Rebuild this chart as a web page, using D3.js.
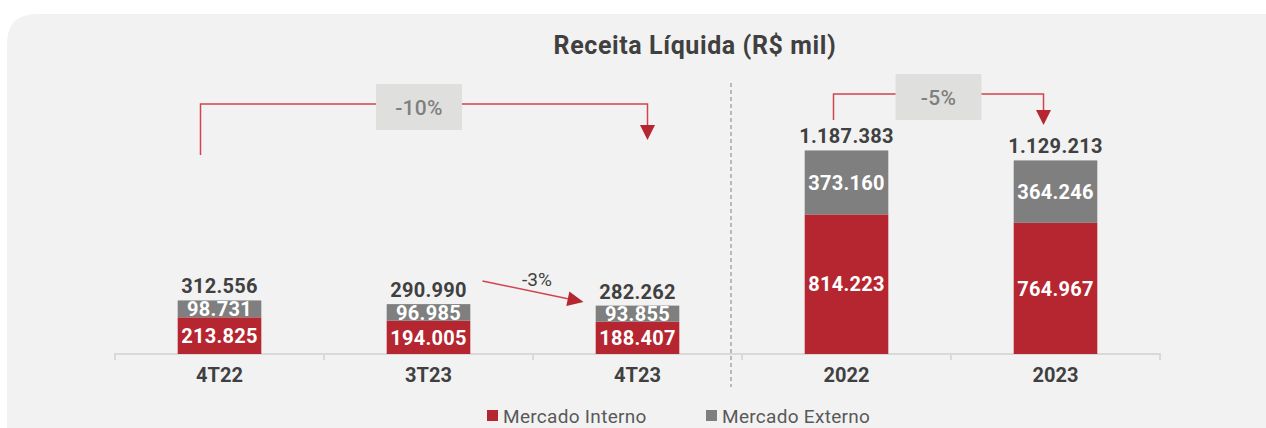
<!DOCTYPE html>
<html><head><meta charset="utf-8">
<script src="https://cdn.jsdelivr.net/npm/d3@7"></script>
<style>
html,body{margin:0;padding:0;background:#fff;}
svg{display:block;font-family:Roboto,"Noto Sans",sans-serif;}
</style></head>
<body>
<svg id="chart" width="1266" height="428"></svg>
<script>
const categories = ["4T22", "3T23", "4T23", "2022", "2023"];
const mercadoInterno = [213.825, 194.005, 188.407, 814.223, 764.967];
const mercadoExterno = [98.731, 96.985, 93.855, 373.160, 364.246];
const totals = [312.556, 290.990, 282.262, 1187.383, 1129.213];
const seriesNames = ["Mercado Interno", "Mercado Externo"];
const seriesColors = ["#b52630", "#7f7f7f"];
const title = "Receita Líquida (R$ mil)";
const changes = [
  {from: "4T22", to: "4T23", label: "-10%"},
  {from: "2022", to: "2023", label: "-5%"},
  {from: "3T23", to: "4T23", label: "-3%"}
];

// values are in thousands with 3 decimals -> display like 1.187.383
const fmtBR = v => {
  const n = Math.round(v * 1000);
  return d3.format(",")(n).replace(/,/g, ".");
};

const svg = d3.select("#chart");
// background panel
svg.append("path")
  .attr("d", "M7,1266 L7,44 Q7,14 37,14 L1266,14 L1266,428 L7,428 Z")
  .attr("fill", "#f2f2f2");

const x = d3.scaleBand().domain(categories).range([115, 1160]).paddingInner(0.6).paddingOuter(0.3);
const y = d3.scaleLinear().domain([0, 1400]).range([354, 114]);
const xs = d3.scaleBand().domain(categories).range([115, 1160]).padding(0);

// axis
const axis = d3.axisBottom(xs).tickSize(6).tickFormat("");
const gAxis = svg.append("g").attr("transform", "translate(0,354)").call(axis);
gAxis.select(".domain").attr("d", "M115,6V0H1160V6").attr("stroke", "#d9d9d9").attr("stroke-width", 2).attr("fill", "none");
gAxis.selectAll(".tick").remove();
const boundaries = categories.map(c => xs(c)).concat([xs.range()[1]]);
gAxis.selectAll("line.bt").data(boundaries)
  .enter().append("line")
  .attr("x1", d => d).attr("x2", d => d).attr("y1", 0).attr("y2", 6)
  .attr("stroke", "#d9d9d9").attr("stroke-width", 2);

// category labels
svg.append("g").selectAll("text").data(categories).enter().append("text")
  .attr("x", d => x(d) + x.bandwidth() / 2).attr("y", 382)
  .attr("text-anchor", "middle").attr("font-size", 20).attr("font-weight", 700)
  .attr("fill", "#404040").text(d => d);

// divider
svg.append("line").attr("x1", 731).attr("x2", 731).attr("y1", 83).attr("y2", 387)
  .attr("stroke", "#a6a6a6").attr("stroke-width", 1.5).attr("stroke-dasharray", "4,3");

// stacked bars
const stackData = categories.map((c, i) => ({cat: c, mi: mercadoInterno[i], me: mercadoExterno[i]}));
const stack = d3.stack().keys(["mi", "me"])(stackData);
const gBars = svg.append("g");
stack.forEach((layer, li) => {
  gBars.append("g").selectAll("rect").data(layer).enter().append("rect")
    .attr("x", d => x(d.data.cat)).attr("width", x.bandwidth())
    .attr("y", d => y(d[1])).attr("height", d => y(d[0]) - y(d[1]))
    .attr("fill", seriesColors[li]);
  gBars.append("g").selectAll("text").data(layer).enter().append("text")
    .attr("x", d => x(d.data.cat) + x.bandwidth() / 2)
    .attr("y", d => (y(d[0]) + y(d[1])) / 2)
    .attr("dy", "0.36em")
    .attr("text-anchor", "middle").attr("font-size", 20).attr("font-weight", 700)
    .attr("letter-spacing", 0.3)
    .attr("fill", "#ffffff").text(d => fmtBR(d[1] - d[0]));
});
// totals
svg.append("g").selectAll("text").data(categories).enter().append("text")
  .attr("x", d => x(d) + x.bandwidth() / 2)
  .attr("y", (d, i) => y(totals[i]) - 7)
  .attr("text-anchor", "middle").attr("font-size", 20).attr("font-weight", 700)
  .attr("letter-spacing", 0.3)
  .attr("fill", "#404040").text((d, i) => fmtBR(totals[i]));

// title
svg.append("text").attr("x", 695).attr("y", 54).attr("text-anchor", "middle")
  .attr("font-size", 25).attr("font-weight", 700).attr("letter-spacing", 0.6)
  .attr("fill", "#404040").text(title);

const lineColor = "#d2434f";
const arrowColor = "#b52630";
function downArrow(cx, tipY) {
  svg.append("path").attr("d", `M${cx - 7.5},${tipY - 15}L${cx + 7.5},${tipY - 15}L${cx},${tipY}Z`).attr("fill", arrowColor);
}
function bracket(ch, fromOff, toOff, hy, startY, tipY, boxW, boxH, boxShift) {
  const cx1 = x(ch.from) + x.bandwidth() / 2 + fromOff;
  const cx2 = x(ch.to) + x.bandwidth() / 2 + toOff;
  const mid = (cx1 + cx2) / 2 + boxShift;
  svg.append("path").attr("d", `M${cx1},${startY}V${hy}H${cx2}V${tipY - 14}`)
    .attr("fill", "none").attr("stroke", lineColor).attr("stroke-width", 1.5);
  downArrow(cx2, tipY);
  svg.append("rect").attr("x", mid - boxW / 2).attr("y", hy - boxH / 2 + 3).attr("width", boxW).attr("height", boxH)
    .attr("fill", "#dfe0de");
  svg.append("text").attr("x", mid).attr("y", hy + 3).attr("dy", "0.36em").attr("text-anchor", "middle")
    .attr("font-size", 21).attr("font-weight", 500).attr("letter-spacing", 0.3)
    .attr("fill", "#7f7f7f").text(ch.label);
}
bracket(changes[0], -19, 10, 104, 155, 140, 86, 46, -5);
bracket(changes[1], -13, -12, 94, 120, 125, 86, 46, 0);

// -3% arrow
{
  const x1 = x(changes[2].from) + x.bandwidth() / 2 + 54, y1 = 281;
  const x2 = x(changes[2].to) + x.bandwidth() / 2 - 54, y2 = 302;
  const ang = Math.atan2(y2 - y1, x2 - x1);
  const L = 16, W = 7.5;
  const bx = x2 - L * Math.cos(ang), by = y2 - L * Math.sin(ang);
  svg.append("line").attr("x1", x1).attr("y1", y1).attr("x2", bx).attr("y2", by)
    .attr("stroke", lineColor).attr("stroke-width", 1.5);
  svg.append("path").attr("d", `M${x2},${y2}L${bx + W * Math.sin(ang)},${by - W * Math.cos(ang)}L${bx - W * Math.sin(ang)},${by + W * Math.cos(ang)}Z`)
    .attr("fill", arrowColor);
  svg.append("text").attr("x", 537).attr("y", 286).attr("text-anchor", "middle")
    .attr("font-size", 19).attr("fill", "#404040").text(changes[2].label);
}

// legend
const legendX = [487, 706];
const lg = svg.append("g");
seriesNames.forEach((n, i) => {
  lg.append("rect").attr("x", legendX[i]).attr("y", 410).attr("width", 11).attr("height", 11).attr("fill", seriesColors[i]);
  lg.append("text").attr("x", legendX[i] + 16).attr("y", 416).attr("dy", "0.36em")
    .attr("font-size", 19).attr("letter-spacing", 0.3).attr("fill", "#595959").text(n);
});
</script>
</body></html>
